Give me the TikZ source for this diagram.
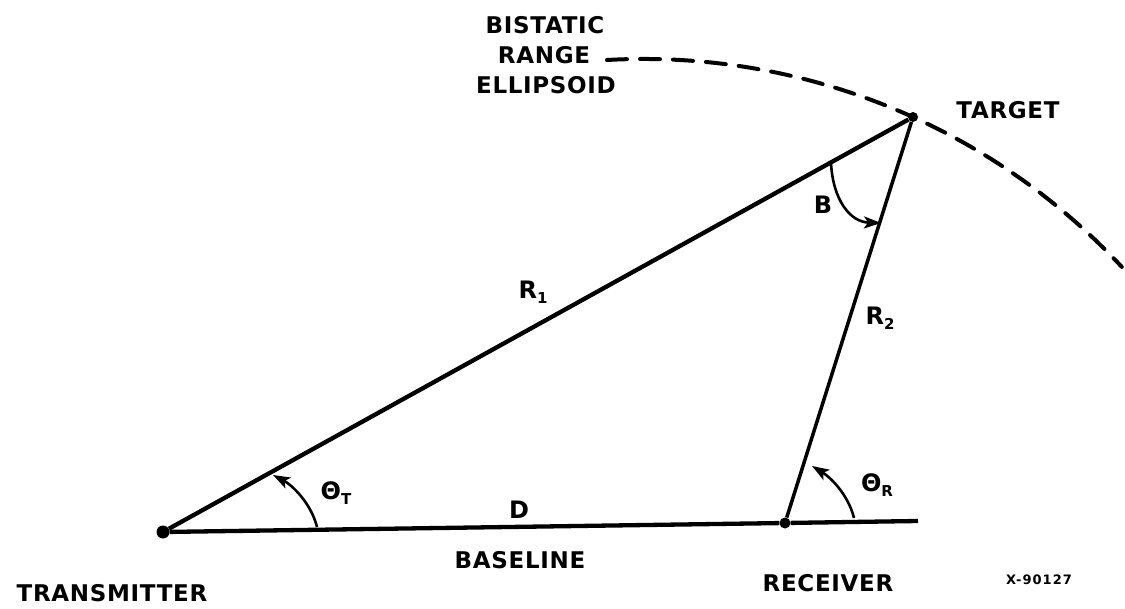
\documentclass[tikz,border=0pt]{standalone}
\usepackage{fontspec}
\setmainfont{DejaVu Sans}
\usetikzlibrary{arrows.meta}
\newcommand{\subl}[1]{\raisebox{-0.35ex}{\fontsize{15}{16}\selectfont #1}}
\begin{document}
\begin{tikzpicture}[x=1pt,y=-1pt,
  lbl/.style={font=\fontsize{23}{26}\selectfont\bfseries\addfontfeatures{LetterSpace=3}, inner sep=0pt},
  sym/.style={font=\fontsize{24}{26}\selectfont\bfseries, inner sep=0pt},
  small/.style={font=\fontsize{13}{14}\selectfont\bfseries\addfontfeatures{LetterSpace=8}, inner sep=0pt},
  dotnode/.style={circle, fill=black, inner sep=0pt, minimum size=#1},
  heavy/.style={line width=4.3pt},
  medium/.style={line width=3.5pt},
  anglearc/.style={line width=2.6pt, -{Stealth[length=17pt,width=12pt,inset=4pt]}},
  ellipsedash/.style={line width=4pt, dash pattern=on 20pt off 13pt, line cap=round}
]
\useasboundingbox (0,0) rectangle (1125,609);
\fill[white] (0,0) rectangle (1125,609);

% points
\node[dotnode=13pt] (T) at (163,532) {};
\node[dotnode=11pt] (R) at (785,523) {};
\node[dotnode=10pt] (P) at (913,117) {};
\coordinate (E) at (918,521);

% triangle sides
\draw[heavy] (T) -- (P);
\draw[medium] (P) -- (R);
\draw[heavy] (T) -- (R);
\draw[heavy] (R) -- (E);

% bistatic range ellipsoid (dashed arc)
\coordinate (A) at (607,60);
\draw[ellipsedash] (A) arc[start angle=-93.2, end angle=-43, radius=654];

% angle arcs
\coordinate (tb) at (317,527);
\coordinate (tt) at (273,475);
\draw[anglearc] (tb) .. controls (311,503) and (292,485) .. (tt);
\coordinate (rb) at (854,518);
\coordinate (rt) at (812,466);
\draw[anglearc] (rb) .. controls (848,494) and (830,477) .. (rt);
\coordinate (bs) at (831,163);
\coordinate (be) at (881,223);
\draw[anglearc] (bs) .. controls (833,200) and (850,222) .. (be);

% labels
\node[lbl] (l1) at (545,25) {BISTATIC};
\node[lbl] (l2) at (544,55) {RANGE};
\node[lbl] (l3) at (546,85) {ELLIPSOID};
\node[lbl] (ltg) at (1008,110) {TARGET};
\node[sym] (lb) at (823,205) {B};
\node[sym] (lr1) at (533,292) {R\subl{1}};
\node[sym] (lr2) at (880,318) {R\subl{2}};
\node[sym] (lth) at (336,493) {Θ\subl{T}};
\node[sym] (lthr) at (877,485) {Θ\subl{R}};
\node[sym] (ld) at (519,510) {D};
\node[lbl] (lbase) at (520,560) {BASELINE};
\node[lbl] (ltx) at (112,593) {TRANSMITTER};
\node[lbl] (lrx) at (828,583) {RECEIVER};
\node[small] (lid) at (1039,580) {X-90127};
\end{tikzpicture}
\end{document}
